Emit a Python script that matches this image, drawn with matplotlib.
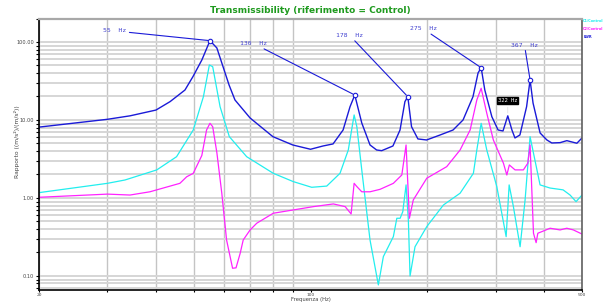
import matplotlib
matplotlib.use("Agg")
import matplotlib.pyplot as plt
from matplotlib.ticker import FixedLocator, NullFormatter
import numpy as np

# ---------------------------------------------------------------------------
# Data (frequency in Hz, ratio)
# ---------------------------------------------------------------------------

lwr_freq = [20, 30, 34.3, 40, 43.5, 47.5, 49.8, 52.5, 55.1, 57.4, 61.7, 63.9,
            69.9, 80, 90, 100, 107.7, 114.3, 121.3, 126.4, 130, 135.5, 142.3,
            148, 152.5, 163, 170, 175, 178, 182, 189, 199, 215.6, 232.8, 247,
            262, 270, 275, 281, 293, 304, 313, 322, 330, 336, 346, 360, 367.5,
            374, 390, 406, 418, 439, 457, 485, 500]
lwr_val = [8.1, 10.2, 11.3, 13.4, 17.2, 24.2, 35.9, 58.7, 104, 83.8, 28.1, 18.05,
           10.6, 6.11, 4.78, 4.21, 4.64, 4.93, 7.44, 14.8, 20.9, 9.15, 4.78,
           4.12, 4.04, 4.64, 7.44, 17.2, 19.9, 8.2, 5.71, 5.54, 6.42, 7.44, 10.0,
           19.9, 40.1, 46.8, 24.2, 11.0, 7.44, 7.23, 11.3, 7.44, 5.88, 6.42, 14.8, 32.6,
           16.5, 6.81, 5.54, 5.07, 5.12, 5.43, 5.03, 5.88]

c1_freq = [20, 30, 33.3, 40.2, 45.2, 49.9, 53.0, 54.9, 56.0, 58.5, 61.8, 68.5,
           80.2, 90.3, 100.7, 110.1, 119.1, 125.1, 129.5, 131.6, 135.5, 142.3,
           149.5, 154, 163.4, 166.8, 170.1, 172.8, 176.2, 178.6, 180.4, 185.8,
           199.2, 219.9, 242.7, 262.6, 268, 275, 284.3, 301.7, 318.9, 324.6,
           332.9, 346.4, 356.8, 367.5, 389.9, 413.8, 446.9, 465.8, 482.6, 500]
c1_val = [1.17, 1.54, 1.70, 2.29, 3.38, 7.44, 19.9, 50.7, 48.2, 14.8, 6.11, 3.38,
          2.07, 1.62, 1.37, 1.42, 2.07, 4.12, 11.6, 8.2, 2.29, 0.289,
          0.0767, 0.177, 0.319, 0.549, 0.549, 0.667, 1.47, 0.522, 0.10, 0.237,
          0.429, 0.813, 1.15, 2.07, 4.12, 9.07, 4.12, 1.40, 0.319, 1.47,
          0.774, 0.237, 0.943, 6.11, 1.47, 1.34, 1.27, 1.09, 0.897, 1.09]

c2_freq = [20, 30, 34.3, 38.6, 46.1, 48.0, 49.9, 52.5, 54.0, 55.1, 56.0, 57.4,
           59.1, 60.8, 63.0, 64.3, 65.9, 67.1, 69.9, 72.7, 80.2, 90.3, 101.7,
           114.5, 122.8, 127.2, 129.5, 131.6, 135.5, 142.3, 151, 163.4, 171.8,
           176.2, 179.7, 183.9, 199.2, 224.2, 242.7, 257.6, 268, 275, 284.3,
           295.6, 313.8, 320.2, 325, 336.2, 353.2, 362.6, 367.5, 375, 380.9,
           384.8, 394.1, 413.8, 439, 456.8, 475, 499]
c2_val = [1.02, 1.12, 1.09, 1.20, 1.54, 1.87, 2.07, 3.5, 7.44, 9.07, 8.2, 3.8,
          1.15, 0.289, 0.1255, 0.127, 0.195, 0.289, 0.389, 0.474, 0.637, 0.702, 0.774,
          0.838, 0.774, 0.624, 1.54, 1.40, 1.20, 1.20, 1.29, 1.54, 1.97,
          4.78, 0.549, 0.943, 1.79, 2.52, 4.12, 7.44, 18.05, 25.5, 12.2,
          5.54, 2.79, 1.97, 2.65, 2.29, 2.29, 2.79, 4.78, 0.353, 0.267,
          0.353, 0.370, 0.409, 0.389, 0.409, 0.389, 0.346]

peak_freq = [55.1, 130, 178, 275, 367.5]
peak_val = [104, 20.9, 19.9, 46.8, 32.6]
peak_text = ["55  Hz", "130  Hz", "178  Hz", "275  Hz", "367  Hz"]
# label offsets from the marker, in points
peak_offset = [(-60, 7), (-63, 37), (-32, 44), (-32, 28), (-4, 25)]

series_names = ["C1/Control", "C2/Control", "LWR"]
series_colors = ["#22eeee", "#ff22ff", "#1a1ad8"]

y_ticks = [0.1, 1, 10, 100]
y_ticklabels = ["0.10", "1.00", "10.00", "100.00"]
x_ticks = [20, 100, 500]
x_ticklabels = ["20", "100", "500"]

# ---------------------------------------------------------------------------
# Figure
# ---------------------------------------------------------------------------

fig = plt.figure(figsize=(6.04, 3.02), dpi=100)
ax = fig.add_axes([0.0646, 0.0397, 0.899, 0.899])
ax.set_xscale("log")
ax.set_yscale("log")
ax.set_xlim(20, 500)
ax.set_ylim(0.066, 200)

# grid at every minor position
x_grid = [v for d in (10, 100) for v in np.arange(2, 10) * d if 20 <= v <= 500]
y_grid = [m * d for d in (0.01, 0.1, 1, 10, 100) for m in range(1, 10)]
y_grid = [v for v in y_grid if 0.066 <= v <= 200]
for v in x_grid:
    ax.axvline(v, color="#c4c4c4", linewidth=1.0, zorder=0)
for v in y_grid:
    ax.axhline(v, color="#d6d6d6", linewidth=1.4, zorder=0)

ax.plot(c1_freq, c1_val, color=series_colors[0], linewidth=0.9, label=series_names[0])
ax.plot(c2_freq, c2_val, color=series_colors[1], linewidth=0.9, label=series_names[1])
ax.plot(lwr_freq, lwr_val, color=series_colors[2], linewidth=1.0, label=series_names[2])

# peak markers + labels
for f, v, txt, off in zip(peak_freq, peak_val, peak_text, peak_offset):
    ax.plot([f], [v], marker="o", markersize=3.2, markerfacecolor="white",
            markeredgecolor=series_colors[2], markeredgewidth=0.8, zorder=5)
    ax.annotate(txt, xy=(f, v), xytext=off, textcoords="offset points",
                fontsize=4.6, family="DejaVu Sans Mono", color="#4040d0",
                ha="right" if off[0] < -10 else "center", va="center",
                arrowprops=dict(arrowstyle="-", color=series_colors[2],
                                linewidth=0.8, shrinkA=0, shrinkB=1.5))

# 322 Hz box label
ax.annotate("322 Hz", xy=(322, 11.3), xytext=(0, 11), textcoords="offset points",
            fontsize=4, color="white", ha="center", va="center",
            family="DejaVu Sans Mono",
            bbox=dict(boxstyle="square,pad=0.15", fc="black", ec="black"),
            arrowprops=dict(arrowstyle="-", color="#dddddd", linewidth=0.5))

# ticks
ax.xaxis.set_major_locator(FixedLocator(x_ticks))
ax.set_xticklabels(x_ticklabels)
ax.xaxis.set_minor_locator(FixedLocator(x_grid))
ax.xaxis.set_minor_formatter(NullFormatter())
ax.yaxis.set_major_locator(FixedLocator(y_ticks))
ax.set_yticklabels(y_ticklabels)
ax.yaxis.set_minor_locator(FixedLocator(y_grid))
ax.yaxis.set_minor_formatter(NullFormatter())
ax.tick_params(which="both", direction="out", length=2.5, width=0.8,
               labelsize=3.6, pad=1, colors="black", labelcolor="#444444")
ax.tick_params(axis="x", which="both", length=1.5, pad=0.3, labelsize=3.2)

for side in ("left", "bottom"):
    ax.spines[side].set_color("black")
    ax.spines[side].set_linewidth(1.2)
ax.spines["top"].set_color("#a8a8a8")
ax.spines["top"].set_linewidth(1.6)
ax.spines["right"].set_color("#606060")
ax.spines["right"].set_linewidth(1.2)

ax.set_title("Transmissibility (riferimento = Control)", color="#1e9a1e",
             fontsize=6.5, fontweight="bold", pad=4)
fig.text(0.514, 0.001, "Frequenza (Hz)", fontsize=3.8, color="#444444",
         ha="center", va="bottom")
fig.text(0.028, 0.53, "Rapporto ((m/s²)/(m/s²))", fontsize=4.3, color="#444444",
         ha="center", va="center", rotation=90)

# legend as coloured text outside on the right
for i, (name, col) in enumerate(zip(series_names, series_colors)):
    fig.text(0.9655, 0.93 - i * 0.027, name, color=col, fontsize=2.5,
             ha="left", va="center", fontweight="bold")

fig.savefig("out.png", dpi=100)
